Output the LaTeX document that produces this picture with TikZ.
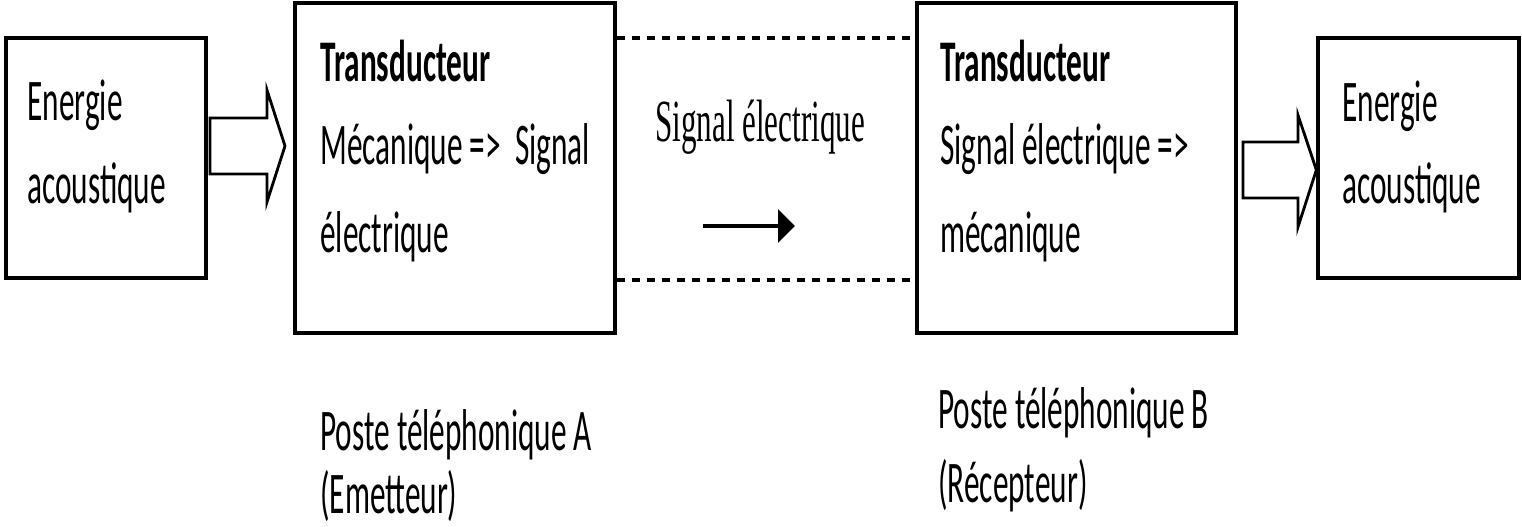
\documentclass[tikz,border=0pt]{standalone}
\usepackage{fontspec}
\setmainfont{Carlito}[FakeStretch=0.53]
\newfontfamily\tmsfont{Liberation Serif}[FakeStretch=0.52]
\usetikzlibrary{arrows.meta}
\begin{document}
\begin{tikzpicture}[x=0.02cm,y=-0.02cm,
  box/.style={draw,line width=1.9pt,rectangle,inner sep=0pt},
  txt/.style={inner sep=0pt,anchor=base west,font=\fontsize{33.6pt}{40pt}\selectfont},
  hollow/.style={draw,line width=1.6pt,fill=white,line join=miter},
  dashline/.style={line width=2.7pt,dash pattern=on 0.17cm off 0.13cm}]
\useasboundingbox (0,0) rectangle (1522,527);
% boxes
\node[box,minimum width=4.0cm,minimum height=4.8cm] (b1) at (106,158) {};
\node[box,minimum width=6.4cm,minimum height=6.6cm] (b2) at (455,168) {};
\node[box,minimum width=6.38cm,minimum height=6.6cm] (b3) at (1076.5,168) {};
\node[box,minimum width=4.02cm,minimum height=4.8cm] (b4) at (1418.5,158) {};
% texts
\node[txt] (t1a) at (27,121) {Energie};
\node[txt] (t1b) at (27,203) {acoustique};
\node[txt] (t2a) at (320,82) {\bfseries Transducteur};
\node[txt] (t2b) at (320,165) {Mécanique =>\ \ Signal};
\node[txt] (t2c) at (320,252) {électrique};
\node[txt,font=\tmsfont\fontsize{34pt}{40pt}\selectfont] (sig) at (655,142) {Signal électrique};
\node[txt] (t3a) at (940,82) {\bfseries Transducteur};
\node[txt] (t3b) at (940,165) {Signal électrique =>};
\node[txt] (t3c) at (940,252) {mécanique};
\node[txt] (t4a) at (1342,122) {Energie};
\node[txt] (t4b) at (1342,203) {acoustique};
\node[txt] (pa) at (320,450) {Poste téléphonique A};
\node[txt] (pb) at (320,513) {(Emetteur)};
\node[txt] (pc) at (938,428) {Poste téléphonique B};
\node[txt] (pd) at (938,502) {(Récepteur)};
% dashed connectors
\draw[dashline] (b2.east |- 0,38) -- (b3.west |- 0,38);
\draw[dashline] (b2.east |- 0,280) -- (b3.west |- 0,280);
% small arrow
\coordinate (sa) at (703,226);
\coordinate (sb) at (795,226);
\draw[line width=2.2pt,-{Triangle[length=0.34cm,width=0.66cm]}] (sa) -- (sb);
% hollow arrows
\draw[hollow] (210,118) -- (267,118) -- (267,90) -- (285,146) -- (267,202) -- (267,174) -- (210,174) -- cycle;
\draw[hollow] (1243,142) -- (1298,142) -- (1298,115) -- (b4.west |- 0,170) -- (1298,227) -- (1298,198) -- (1243,198) -- cycle;
\end{tikzpicture}
\end{document}
